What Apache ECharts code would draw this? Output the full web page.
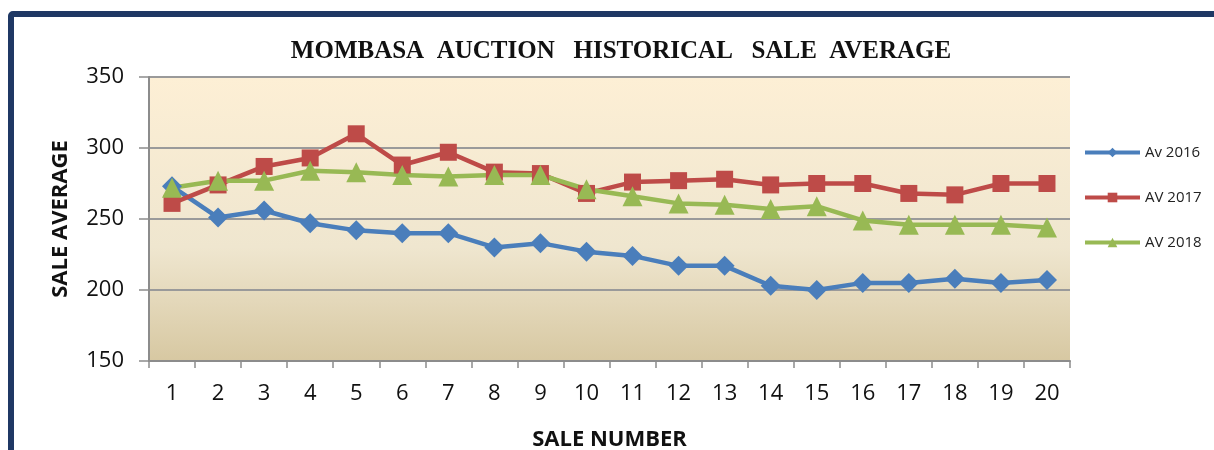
<!DOCTYPE html>
<html>
<head>
<meta charset="utf-8">
<script src="https://cdn.jsdelivr.net/npm/echarts@6/dist/echarts.min.js"></script>
<style>
html,body{margin:0;padding:0;background:#fff;}
#chart{width:1214px;height:450px;}
</style>
</head>
<body>
<div id="chart"></div>
<script>
const categories = ['1','2','3','4','5','6','7','8','9','10','11','12','13','14','15','16','17','18','19','20'];
const av2016 = [273, 251, 256, 247, 242, 240, 240, 230, 233, 227, 224, 217, 217, 203, 200, 205, 205, 208, 205, 207];
const av2017 = [261, 274, 287, 293, 310, 288, 297, 283, 282, 268, 276, 277, 278, 274, 275, 275, 268, 267, 275, 275];
const av2018 = [272, 277, 277, 284, 283, 281, 280, 281, 281, 271, 266, 261, 260, 257, 259, 249, 246, 246, 246, 244];
const seriesNames = ['Av 2016', 'AV 2017', 'AV 2018'];
const yTicks = [150, 200, 250, 300, 350];

const chart = echarts.init(document.getElementById('chart'));
const mk = (name, data, color, symbol, size) => ({
  name, type: 'line', data,
  symbol, symbolSize: size,
  lineStyle: { color, width: 4.5 },
  itemStyle: { color },
  emphasis: { disabled: true }
});
chart.setOption({
  animation: false,
  backgroundColor: '#fff',
  graphic: [{
    type: 'rect', z: -10,
    shape: { x: 11, y: 14, width: 1400, height: 600, r: 2 },
    style: { fill: 'none', stroke: '#1f3864', lineWidth: 6 }
  }],
  title: {
    text: 'MOMBASA  AUCTION   HISTORICAL   SALE  AVERAGE',
    left: 616, top: 34, textAlign: 'center',
    textStyle: { fontFamily: 'Liberation Serif', fontWeight: 'bold', fontSize: 25, color: '#111' }
  },
  legend: {
    orient: 'vertical', left: 1078, top: 140, itemGap: 30,
    itemWidth: 55, itemHeight: 12,
    data: seriesNames,
    lineStyle: { width: 4 },
    textStyle: { fontFamily: 'Open Sans', fontSize: 15, color: '#222' }
  },
  grid: {
    left: 149, right: 144, top: 77, bottom: 89,
    containLabel: false, outerBoundsMode: 'none',
    show: true, borderWidth: 0,
    backgroundColor: { type: 'linear', x: 0, y: 0, x2: 0, y2: 1,
      colorStops: [{ offset: 0, color: '#fdefd5' }, { offset: 0.6, color: '#efe6cf' }, { offset: 1, color: '#d7c8a2' }] }
  },
  xAxis: {
    type: 'category', data: categories, boundaryGap: true,
    name: 'SALE NUMBER', nameLocation: 'middle', nameGap: 68,
    nameTextStyle: { fontFamily: 'Open Sans', fontWeight: 'bold', fontSize: 22, color: '#111' },
    axisLine: { lineStyle: { color: '#8c8c8c', width: 2 } },
    axisTick: { show: true, length: 7, lineStyle: { color: '#8c8c8c', width: 1.5 }, alignWithLabel: false },
    axisLabel: { fontFamily: 'Open Sans', fontSize: 22, color: '#111', margin: 22 }
  },
  yAxis: {
    type: 'value', min: 150, max: 350, interval: 50,
    name: 'SALE AVERAGE', nameLocation: 'middle', nameGap: 77,
    nameTextStyle: { fontFamily: 'Open Sans', fontWeight: 'bold', fontSize: 22, color: '#111' },
    axisLine: { show: true, lineStyle: { color: '#8c8c8c', width: 2 } },
    axisTick: { show: true, length: 10, lineStyle: { color: '#8c8c8c', width: 1.5 } },
    axisLabel: { fontFamily: 'Open Sans', fontSize: 22, color: '#111', margin: 25,
      formatter: v => yTicks.includes(v) ? String(v) : '' },
    splitLine: { show: true, lineStyle: { color: '#9a9a9a', width: 2 } }
  },
  series: [
    mk(seriesNames[0], av2016, '#4a7ebb', 'diamond', 20),
    mk(seriesNames[1], av2017, '#be4b48', 'rect', 17),
    mk(seriesNames[2], av2018, '#98b954', 'triangle', 20)
  ]
});
</script>
</body>
</html>
